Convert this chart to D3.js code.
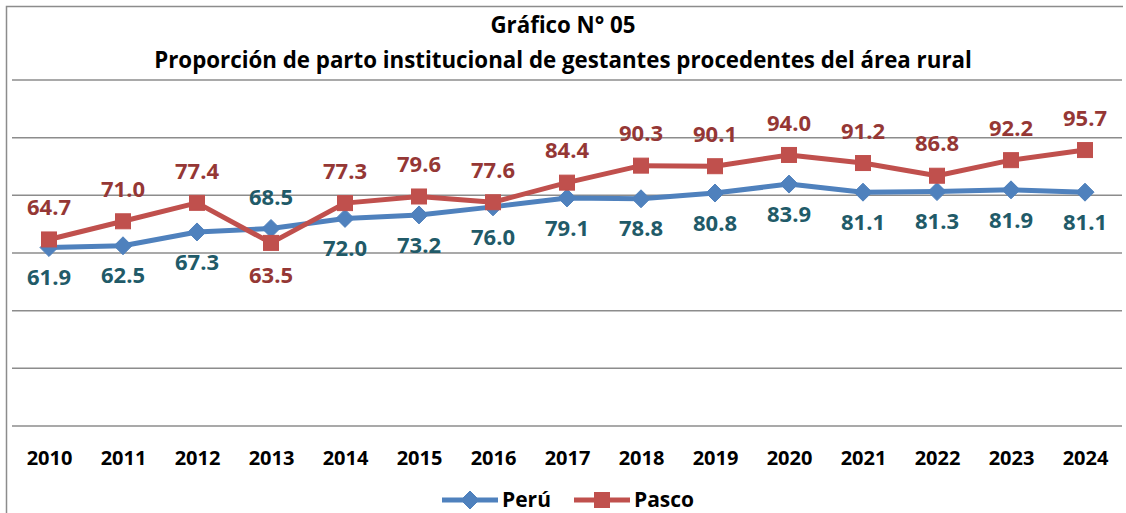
<!DOCTYPE html>
<html>
<head>
<meta charset="utf-8">
<script src="https://cdn.jsdelivr.net/npm/d3@7"></script>
<style>
  body { margin: 0; background: #fff; }
  svg { display: block; font-family: "Open Sans", Lato, sans-serif; font-weight: bold; }
</style>
</head>
<body>
<script>
// Data
var years = ["2010", "2011", "2012", "2013", "2014", "2015", "2016", "2017",
             "2018", "2019", "2020", "2021", "2022", "2023", "2024"];
var peru = [61.9, 62.5, 67.3, 68.5, 72.0, 73.2, 76.0, 79.1, 78.8, 80.8, 83.9, 81.1, 81.3, 81.9, 81.1];
var pasco = [64.7, 71.0, 77.4, 63.5, 77.3, 79.6, 77.6, 84.4, 90.3, 90.1, 94.0, 91.2, 86.8, 92.2, 95.7];
var yTicks = [0, 20, 40, 60, 80, 100, 120];
var titleLines = ["Gráfico N° 05", "Proporción de parto institucional de gestantes procedentes del área rural"];

// Peru labels that sit above the point, Pasco labels that sit below
var peruAbove = ["2013"];
var pascoBelow = ["2013"];

var svgWidth = 1126;
var svgHeight = 513;

var plot = { left: 12, right: 1122, top: 80, bottom: 426 };

var svg = d3.select("body")
  .append("svg")
  .attr("width", svgWidth)
  .attr("height", svgHeight);

// chart frame (cropped on right and bottom)
svg.append("path")
  .attr("d", "M6.5,513 V6.5 H1123")
  .attr("fill", "none")
  .attr("stroke", "#8c8c8c")
  .attr("stroke-width", 1.5);

// title
svg.selectAll(".title")
  .data(titleLines)
  .enter()
  .append("text")
  .attr("class", "title")
  .attr("x", 563)
  .attr("y", (d, i) => 33 + i * 35)
  .attr("text-anchor", "middle")
  .attr("font-size", 22.3)
  .attr("fill", "#000")
  .text(d => d);

var xScale = d3.scalePoint()
  .domain(years)
  .range([plot.left, plot.right])
  .padding(0.5);

var yScale = d3.scaleLinear()
  .domain([0, 120])
  .range([plot.bottom, plot.top]);

// gridlines
svg.append("g")
  .selectAll("line")
  .data(yTicks)
  .enter()
  .append("line")
  .attr("x1", plot.left)
  .attr("x2", plot.right)
  .attr("y1", d => yScale(d))
  .attr("y2", d => yScale(d))
  .attr("stroke", "#8c8c8c")
  .attr("stroke-width", 1.5);

// x axis labels
var xAxis = d3.axisBottom(xScale).tickSize(0).tickPadding(0);
var xg = svg.append("g")
  .attr("transform", `translate(0, ${plot.bottom})`)
  .call(xAxis);
xg.select(".domain").remove();
xg.selectAll("text")
  .attr("y", 39)
  .attr("dy", null)
  .attr("font-size", 20)
  .attr("font-family", "'Open Sans', Lato, sans-serif")
  .attr("font-weight", "bold")
  .attr("fill", "#000");

var line = d3.line()
  .x((d, i) => xScale(years[i]))
  .y(d => yScale(d));

var blue = "#4f81bd";
var red = "#c0504d";

function diamond(g, cx, cy, r) {
  g.append("path")
    .attr("d", `M${cx},${cy - r} L${cx + r},${cy} L${cx},${cy + r} L${cx - r},${cy} Z`)
    .attr("fill", blue)
    .attr("stroke", blue)
    .attr("stroke-width", 1);
}

function square(g, cx, cy, s) {
  g.append("rect")
    .attr("x", cx - s / 2)
    .attr("y", cy - s / 2)
    .attr("width", s)
    .attr("height", s)
    .attr("fill", red)
    .attr("stroke", red)
    .attr("stroke-width", 1);
}

// Peru series
var peruG = svg.append("g");
peruG.append("path")
  .datum(peru)
  .attr("d", line)
  .attr("fill", "none")
  .attr("stroke", blue)
  .attr("stroke-width", 5)
  .attr("stroke-linejoin", "round");
peru.forEach((v, i) => diamond(peruG, xScale(years[i]), yScale(v), 9));

// Pasco series
var pascoG = svg.append("g");
pascoG.append("path")
  .datum(pasco)
  .attr("d", line)
  .attr("fill", "none")
  .attr("stroke", red)
  .attr("stroke-width", 5)
  .attr("stroke-linejoin", "round");
pasco.forEach((v, i) => square(pascoG, xScale(years[i]), yScale(v), 15));

// data labels
svg.append("g")
  .selectAll("text")
  .data(peru)
  .enter()
  .append("text")
  .attr("x", (d, i) => xScale(years[i]))
  .attr("y", (d, i) => yScale(d) + (peruAbove.includes(years[i]) ? -31 : 30))
  .attr("dy", "0.35em")
  .attr("text-anchor", "middle")
  .attr("font-size", 22)
  .attr("fill", "#215a68")
  .text(d => d.toFixed(1));

svg.append("g")
  .selectAll("text")
  .data(pasco)
  .enter()
  .append("text")
  .attr("x", (d, i) => xScale(years[i]))
  .attr("y", (d, i) => yScale(d) + (pascoBelow.includes(years[i]) ? 32 : -32))
  .attr("dy", "0.35em")
  .attr("text-anchor", "middle")
  .attr("font-size", 22)
  .attr("fill", "#953735")
  .text(d => d.toFixed(1));

// legend
var legend = svg.append("g").attr("transform", "translate(0, 500)");
legend.append("line")
  .attr("x1", 442).attr("x2", 498).attr("y1", 0).attr("y2", 0)
  .attr("stroke", blue).attr("stroke-width", 5);
diamond(legend, 470, 0, 9);
legend.append("text")
  .attr("x", 502).attr("y", 0).attr("dy", "0.35em")
  .attr("font-size", 21).attr("fill", "#000")
  .text("Perú");

legend.append("line")
  .attr("x1", 574).attr("x2", 630).attr("y1", 0).attr("y2", 0)
  .attr("stroke", red).attr("stroke-width", 5);
square(legend, 602, 0, 15);
legend.append("text")
  .attr("x", 634).attr("y", 0).attr("dy", "0.35em")
  .attr("font-size", 21).attr("fill", "#000")
  .text("Pasco");
</script>
</body>
</html>
